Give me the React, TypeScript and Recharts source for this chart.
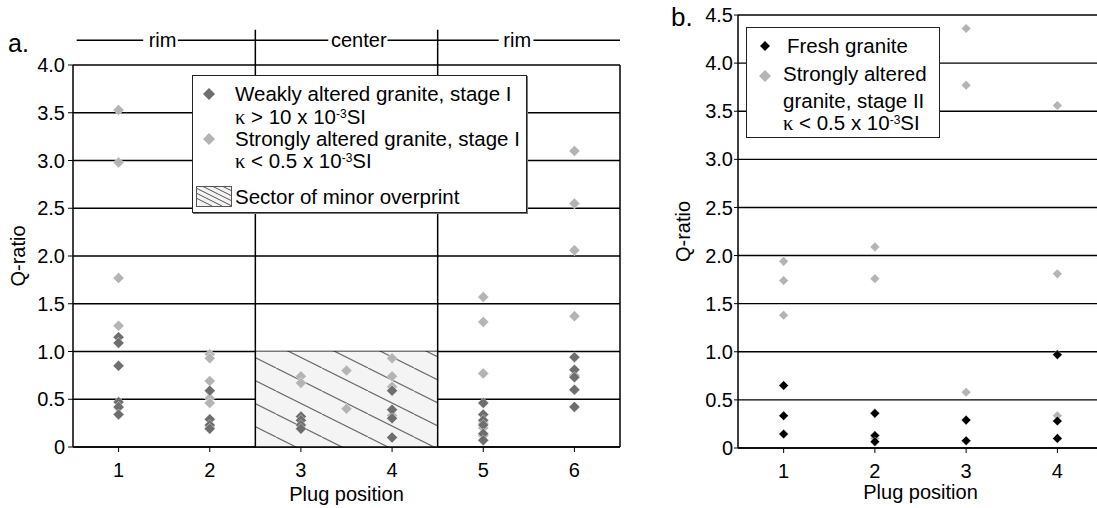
import React from 'react';
import {
  ScatterChart,
  Scatter,
  XAxis,
  YAxis,
  CartesianGrid,
  ReferenceLine,
  ReferenceArea,
  ReferenceDot,
} from 'recharts';

// panel a: Q-ratio per plug position (1-6), stage I
const weaklyAlteredA = [
  { plug: 1, q: 1.15 }, { plug: 1, q: 1.09 }, { plug: 1, q: 0.85 }, { plug: 1, q: 0.47 }, { plug: 1, q: 0.42 }, { plug: 1, q: 0.34 },
  { plug: 2, q: 0.59 }, { plug: 2, q: 0.29 }, { plug: 2, q: 0.23 }, { plug: 2, q: 0.19 },
  { plug: 3, q: 0.32 }, { plug: 3, q: 0.28 }, { plug: 3, q: 0.23 }, { plug: 3, q: 0.19 },
  { plug: 4, q: 0.59 }, { plug: 4, q: 0.39 }, { plug: 4, q: 0.3 }, { plug: 4, q: 0.1 },
  { plug: 5, q: 0.46 }, { plug: 5, q: 0.34 }, { plug: 5, q: 0.28 }, { plug: 5, q: 0.23 }, { plug: 5, q: 0.14 }, { plug: 5, q: 0.07 },
  { plug: 6, q: 0.94 }, { plug: 6, q: 0.81 }, { plug: 6, q: 0.73 }, { plug: 6, q: 0.6 }, { plug: 6, q: 0.42 },
];

const stronglyAlteredA = [
  { plug: 1, q: 3.53 }, { plug: 1, q: 2.98 }, { plug: 1, q: 1.77 }, { plug: 1, q: 1.27 }, { plug: 1, q: 0.41 },
  { plug: 2, q: 0.97 }, { plug: 2, q: 0.93 }, { plug: 2, q: 0.69 }, { plug: 2, q: 0.51 }, { plug: 2, q: 0.46 }, { plug: 2, q: 0.21 },
  { plug: 3, q: 0.74 }, { plug: 3, q: 0.67 },
  { plug: 3.5, q: 0.8 }, { plug: 3.5, q: 0.4 },
  { plug: 4, q: 0.93 }, { plug: 4, q: 0.74 }, { plug: 4, q: 0.63 }, { plug: 4, q: 0.33 },
  { plug: 5, q: 1.57 }, { plug: 5, q: 1.31 }, { plug: 5, q: 0.77 }, { plug: 5, q: 0.25 }, { plug: 5, q: 0.2 }, { plug: 5, q: 0.12 },
  { plug: 6, q: 3.1 }, { plug: 6, q: 2.55 }, { plug: 6, q: 2.06 }, { plug: 6, q: 1.37 }, { plug: 6, q: 0.75 },
];

// panel b: plug positions 1-4
const freshGraniteB = [
  { plug: 1, q: 0.65 }, { plug: 1, q: 0.335 }, { plug: 1, q: 0.145 },
  { plug: 2, q: 0.36 }, { plug: 2, q: 0.13 }, { plug: 2, q: 0.066 },
  { plug: 3, q: 0.29 }, { plug: 3, q: 0.076 },
  { plug: 4, q: 0.97 }, { plug: 4, q: 0.28 }, { plug: 4, q: 0.1 },
];

const stronglyAlteredB = [
  { plug: 1, q: 1.94 }, { plug: 1, q: 1.74 }, { plug: 1, q: 1.38 },
  { plug: 2, q: 2.09 }, { plug: 2, q: 1.76 }, { plug: 2, q: 0.1 },
  { plug: 3, q: 4.36 }, { plug: 3, q: 3.77 }, { plug: 3, q: 0.58 },
  { plug: 4, q: 3.56 }, { plug: 4, q: 1.81 }, { plug: 4, q: 0.335 },
];

const plugTicksA = [1, 2, 3, 4, 5, 6];
const plugTicksB = [1, 2, 3, 4];
const qTicksA = [0, 0.5, 1, 1.5, 2, 2.5, 3, 3.5, 4];
const qTicksB = [0, 0.5, 1, 1.5, 2, 2.5, 3, 3.5, 4, 4.5];

// header over panel a: [text, start of text]
const sectorLabels: [string, number][] = [
  ['rim', 1.33],
  ['center', 3.33],
  ['rim', 5.22],
];
const headerSegments: [number, number][] = [
  [0.54, 1.27],
  [1.65, 3.3],
  [3.95, 5.17],
  [5.55, 6.5],
];

const FONT = '"Liberation Sans", Arial, sans-serif';
const SERIF = '"Liberation Serif", "Times New Roman", serif';
const DARK = '#6e6e6e';
const LIGHT = '#b4b4b4';
const BLACK = '#000000';

const fmtQ = (v: number) => (v === 0 ? '0' : v.toFixed(1));

const diamond = (r: number, color: string) => (props: any) => {
  const { cx, cy } = props;
  if (cx == null || cy == null) return <g />;
  return (
    <path
      d={`M${cx},${cy - r}L${cx + r},${cy}L${cx},${cy + r}L${cx - r},${cy}Z`}
      fill={color}
      stroke="#ffffff"
      strokeWidth={0.4}
    />
  );
};

const yTitle = (x: number) => (props: any) => {
  const vb = props.viewBox;
  const cy = vb.y + vb.height / 2;
  return (
    <text
      x={x}
      y={cy}
      transform={`rotate(-90 ${x} ${cy})`}
      textAnchor="middle"
      dominantBaseline="central"
      fontSize={20}
      fontFamily={FONT}
      fill="#000"
    >
      Q-ratio
    </text>
  );
};

const xTitle = (dy: number) => (props: any) => {
  const vb = props.viewBox;
  return (
    <text
      x={vb.x + vb.width / 2}
      y={vb.y + dy}
      textAnchor="middle"
      dominantBaseline="central"
      fontSize={20}
      fontFamily={FONT}
      fill="#000"
    >
      Plug position
    </text>
  );
};

const tickStyle = { fontSize: 20, fill: '#000', fontFamily: FONT };
const axisLine = { stroke: '#000', strokeWidth: 1.5 };

function Kappa() {
  return <span style={{ fontFamily: SERIF }}>κ</span>;
}

function Sup({ children }: { children: React.ReactNode }) {
  return <span style={{ fontSize: 12, position: 'relative', top: -6 }}>{children}</span>;
}

function Diamond({ size, color }: { size: number; color: string }) {
  return (
    <svg width={size * 2} height={size * 2} style={{ display: 'block' }}>
      <path d={`M${size},0L${size * 2},${size}L${size},${size * 2}L0,${size}Z`} fill={color} />
    </svg>
  );
}

const row = (left: number, cy: number): React.CSSProperties => ({
  position: 'absolute',
  left,
  top: cy - 10,
  height: 20,
  lineHeight: '20px',
  whiteSpace: 'nowrap',
});

function LegendA() {
  return (
    <div
      style={{
        position: 'absolute',
        left: 192,
        top: 75,
        width: 333,
        height: 136,
        background: '#fff',
        border: '1px solid #222',
        boxShadow: '1px 1px 0 #777',
        fontSize: 20.5,
        fontFamily: FONT,
      }}
    >
      <div style={{ position: 'absolute', left: 10, top: 12 }}>
        <Diamond size={6} color={DARK} />
      </div>
      <div style={row(42, 18)}>Weakly altered granite, stage I</div>
      <div style={row(42, 41)}>
        <Kappa /> &gt; 10 x 10<Sup>-3</Sup>SI
      </div>
      <div style={{ position: 'absolute', left: 10, top: 57 }}>
        <Diamond size={6} color={LIGHT} />
      </div>
      <div style={row(42, 63)}>Strongly altered granite, stage I</div>
      <div style={row(42, 85)}>
        <Kappa /> &lt; 0.5 x 10<Sup>-3</Sup>SI
      </div>
      <svg
        width={36}
        height={21}
        style={{ position: 'absolute', left: 3, top: 110 }}
      >
        <rect x={0.5} y={0.5} width={35} height={20} fill="#f4f4f4" stroke="#555" />
        {[-24, -14, -4, 6, 16, 26].map((o) => (
          <line key={o} x1={o} y1={0} x2={o + 40} y2={20} stroke="#555" strokeWidth={1} />
        ))}
      </svg>
      <div style={row(42, 121)}>Sector of minor overprint</div>
    </div>
  );
}

function LegendB() {
  return (
    <div
      style={{
        position: 'absolute',
        left: 746,
        top: 27,
        width: 192,
        height: 109,
        background: '#fff',
        border: '1px solid #222',
        fontSize: 20.5,
        fontFamily: FONT,
      }}
    >
      <div style={{ position: 'absolute', left: 13, top: 13 }}>
        <Diamond size={5} color={BLACK} />
      </div>
      <div style={row(40, 18)}>Fresh granite</div>
      <div style={{ position: 'absolute', left: 12, top: 42 }}>
        <Diamond size={6} color={LIGHT} />
      </div>
      <div style={row(36, 46)}>Strongly altered</div>
      <div style={row(36, 73)}>granite, stage II</div>
      <div style={row(36, 95)}>
        <Kappa /> &lt; 0.5 x 10<Sup>-3</Sup>SI
      </div>
    </div>
  );
}

function PanelA() {
  return (
    <ScatterChart
      width={640}
      height={508}
      margin={{ top: 65, right: 20, bottom: 0, left: 0 }}
      style={{ position: 'absolute', left: 0, top: 0 }}
    >
      <defs>
        <pattern id="hatchA" patternUnits="userSpaceOnUse" width={46} height={23}>
          <rect width={46} height={23} fill="#f4f4f4" />
          <line x1={0} y1={0} x2={46} y2={23} stroke="#707070" strokeWidth={1.2} />
          <line x1={-46} y1={0} x2={0} y2={23} stroke="#707070" strokeWidth={1.2} />
          <line x1={46} y1={0} x2={92} y2={23} stroke="#707070" strokeWidth={1.2} />
        </pattern>
      </defs>
      <ReferenceArea x1={2.5} x2={4.5} y1={0} y2={1} fill="url(#hatchA)" fillOpacity={1} stroke="none" />
      <CartesianGrid vertical={false} stroke="#000" strokeWidth={1.4} strokeOpacity={1} />
      <XAxis
        type="number"
        dataKey="plug"
        domain={[0.5, 6.5]}
        ticks={plugTicksA}
        height={61}
        tick={tickStyle}
        tickSize={5}
        tickMargin={11}
        axisLine={axisLine}
        tickLine={{ stroke: '#000' }}
        label={{ content: xTitle(47) }}
      />
      <YAxis
        type="number"
        dataKey="q"
        domain={[0, 4]}
        ticks={qTicksA}
        width={73}
        tick={tickStyle}
        tickFormatter={fmtQ}
        tickSize={5}
        tickMargin={3}
        axisLine={axisLine}
        tickLine={{ stroke: '#000' }}
        label={{ content: yTitle(18) }}
      />
      <ReferenceLine x={6.5} stroke="#000" strokeWidth={1.5} />
      <ReferenceLine
        segment={[{ x: 2.5, y: 0 }, { x: 2.5, y: 4.37 }]}
        stroke="#000"
        strokeWidth={1.5}
        ifOverflow="visible"
      />
      <ReferenceLine
        segment={[{ x: 4.5, y: 0 }, { x: 4.5, y: 4.37 }]}
        stroke="#000"
        strokeWidth={1.5}
        ifOverflow="visible"
      />
      {headerSegments.map(([a, b], i) => (
        <ReferenceLine
          key={`h${i}`}
          segment={[{ x: a, y: 4.26 }, { x: b, y: 4.26 }]}
          stroke="#000"
          strokeWidth={1.5}
          ifOverflow="visible"
        />
      ))}
      {sectorLabels.map(([text, x], i) => (
        <ReferenceDot
          key={`s${i}`}
          x={x}
          y={4.26}
          r={0}
          stroke="none"
          fill="none"
          ifOverflow="visible"
          label={{ value: text, position: 'right', offset: 0, fontSize: 20, fill: '#000', fontFamily: FONT }}
        />
      ))}
      <Scatter data={stronglyAlteredA} shape={diamond(5.5, LIGHT)} isAnimationActive={false} />
      <Scatter data={weaklyAlteredA} shape={diamond(5.5, DARK)} isAnimationActive={false} />
    </ScatterChart>
  );
}

function PanelB() {
  return (
    <ScatterChart
      width={453}
      height={508}
      margin={{ top: 15, right: 0, bottom: 0, left: 0 }}
      style={{ position: 'absolute', left: 650, top: 0 }}
    >
      <CartesianGrid vertical={false} stroke="#000" strokeWidth={1.4} strokeOpacity={1} />
      <XAxis
        type="number"
        dataKey="plug"
        domain={[0.5, 4.5]}
        ticks={plugTicksB}
        height={60}
        tick={tickStyle}
        tickSize={5}
        tickMargin={11}
        axisLine={axisLine}
        tickLine={{ stroke: '#000' }}
        label={{ content: xTitle(44) }}
      />
      <YAxis
        type="number"
        dataKey="q"
        domain={[0, 4.5]}
        ticks={qTicksB}
        width={88}
        tick={tickStyle}
        tickFormatter={fmtQ}
        tickSize={4}
        tickMargin={1}
        axisLine={axisLine}
        tickLine={{ stroke: '#000' }}
        label={{ content: yTitle(33) }}
      />
      <Scatter data={stronglyAlteredB} shape={diamond(4.8, LIGHT)} isAnimationActive={false} />
      <Scatter data={freshGraniteB} shape={diamond(4.8, BLACK)} isAnimationActive={false} />
    </ScatterChart>
  );
}

export default function App() {
  return (
    <div
      style={{
        position: 'absolute',
        left: 0,
        top: 0,
        width: 1097,
        height: 508,
        overflow: 'hidden',
        background: '#fff',
        fontFamily: FONT,
        color: '#000',
      }}
    >
      <PanelA />
      <PanelB />
      <div style={{ position: 'absolute', left: 8, top: 29, fontSize: 25, fontFamily: FONT }}>a.</div>
      <div style={{ position: 'absolute', left: 671, top: 2, fontSize: 26, fontFamily: FONT }}>b.</div>
      <LegendA />
      <LegendB />
    </div>
  );
}
